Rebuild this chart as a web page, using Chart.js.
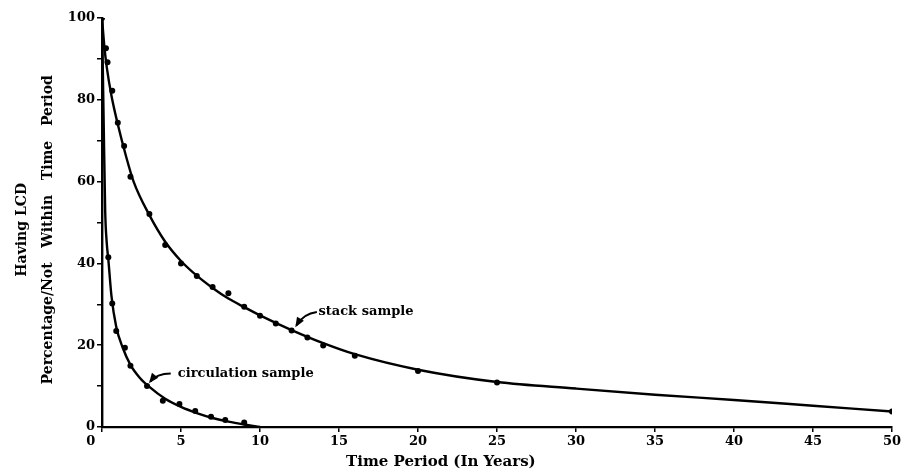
<!DOCTYPE html>
<html>
<head>
<meta charset="utf-8">
<script src="https://cdn.jsdelivr.net/npm/chart.js@4/dist/chart.umd.min.js"></script>
<style>
html,body{margin:0;padding:0;background:#fff;}
#wrap{width:908px;height:472px;}
</style>
</head>
<body>
<div id="wrap"><canvas id="c" width="908" height="472"></canvas></div>
<script>
// Observed points: stack sample
const stackX = [0, 0.25, 0.35, 0.65, 1.0, 1.4, 1.8, 3, 4, 5, 6, 7, 8, 9, 10, 11, 12, 13, 14, 16, 20, 25, 50];
const stackY = [100, 92.6, 89.2, 82.2, 74.4, 68.7, 61.2, 52.1, 44.5, 40, 36.9, 34.2, 32.7, 29.4, 27.2, 25.3, 23.6, 21.9, 19.9, 17.4, 13.7, 10.9, 3.8];
// Observed points: circulation sample
const circX = [0.4, 0.65, 0.9, 1.45, 1.8, 2.85, 3.85, 4.9, 5.9, 6.9, 7.8, 9.0];
const circY = [41.5, 30.2, 23.5, 19.4, 15.0, 10.0, 6.4, 5.6, 3.9, 2.5, 1.7, 1.1];
// Fitted curves
const stackCurveX = [0, 0.15, 0.3, 0.6, 1, 1.5, 2, 3, 4, 5, 6, 7, 8, 9, 10, 12, 14, 16, 20, 25, 30, 35, 40, 45, 50];
const stackCurveY = [100, 93, 88, 81, 74, 66.5, 60, 51.8, 45.3, 40.6, 37, 34, 31.4, 29.3, 27.3, 23.7, 20.5, 17.8, 14, 11, 9.4, 7.9, 6.6, 5.2, 3.8];
const circCurveX = [0, 0.1, 0.2, 0.3, 0.4, 0.6, 0.9, 1.3, 1.8, 2.4, 3, 4, 5, 6, 7, 8, 9, 10];
const circCurveY = [100, 76, 53, 45, 41, 32, 24.5, 19.5, 15.2, 12, 9.8, 6.9, 4.9, 3.4, 2.2, 1.3, 0.6, 0];
// Tick labels
const xTicks = [0, 5, 10, 15, 20, 25, 30, 35, 40, 45, 50];
const yTickLabels = [0, 20, 40, 60, 80, 100];
// Annotations
const labels = ['stack sample', 'circulation sample'];
const labelAt = [[13.7, 28.3], [4.8, 13.1]];
const arrowPath = [[[13.6, 28.1], [12.75, 27.7], [12.3, 24.8]], [[4.35, 13.1], [3.45, 13.1], [3.05, 11.1]]];
const xTitle = 'Time Period (In Years)';
const xTitleAt = 21.45;
const yTitle = ['Having LCD   ', 'Percentage/Not   Within   Time   Period   '];

const toPts = (xs, ys) => xs.map((x, i) => ({x, y: ys[i]}));
const FONT = "'DejaVu Serif', serif";

const annot = {
  id: 'annot',
  afterDatasetsDraw(chart) {
    const {ctx, scales: {x, y}, chartArea} = chart;
    ctx.save();
    ctx.fillStyle = '#000';
    ctx.strokeStyle = '#000';
    ctx.font = "bold 13px " + FONT;
    ctx.textAlign = 'left';
    ctx.textBaseline = 'middle';
    labels.forEach((t, i) => {
      ctx.fillText(t, x.getPixelForValue(labelAt[i][0]), y.getPixelForValue(labelAt[i][1]));
      const p = arrowPath[i].map(q => [x.getPixelForValue(q[0]), y.getPixelForValue(q[1])]);
      ctx.lineWidth = 2;
      ctx.beginPath();
      ctx.moveTo(p[0][0], p[0][1]);
      ctx.quadraticCurveTo(p[1][0], p[1][1], p[2][0], p[2][1]);
      ctx.stroke();
      const ang = Math.atan2(p[2][1] - p[1][1], p[2][0] - p[1][0]);
      const L = 8, W = 4;
      ctx.beginPath();
      ctx.moveTo(p[2][0] + Math.cos(ang) * 2, p[2][1] + Math.sin(ang) * 2);
      ctx.lineTo(p[2][0] - Math.cos(ang) * L - Math.sin(ang) * W, p[2][1] - Math.sin(ang) * L + Math.cos(ang) * W);
      ctx.lineTo(p[2][0] - Math.cos(ang) * L + Math.sin(ang) * W, p[2][1] - Math.sin(ang) * L - Math.cos(ang) * W);
      ctx.closePath();
      ctx.fill();
    });
    ctx.font = "bold 15px " + FONT;
    ctx.textAlign = 'center';
    ctx.fillText(xTitle, x.getPixelForValue(xTitleAt), chartArea.bottom + 35);
    ctx.restore();
  }
};

const lineDs = (data) => ({
  data, showLine: true, pointRadius: 0, borderColor: '#000', borderWidth: 2.4,
  cubicInterpolationMode: 'monotone', fill: false
});
const dotDs = (data) => ({
  data, showLine: false, pointRadius: 3, pointBackgroundColor: '#000', pointBorderColor: '#000', pointBorderWidth: 0
});

new Chart(document.getElementById('c'), {
  type: 'scatter',
  data: {
    datasets: [
      lineDs(toPts(stackCurveX, stackCurveY)),
      lineDs(toPts(circCurveX, circCurveY)),
      dotDs(toPts(stackX, stackY)),
      dotDs(toPts(circX, circY))
    ]
  },
  options: {
    responsive: false,
    animation: false,
    events: [],
    layout: {padding: {left: 0, right: 16, top: 18, bottom: 0}},
    plugins: {legend: {display: false}, tooltip: {enabled: false}},
    scales: {
      x: {
        type: 'linear', min: 0, max: 50,
        afterBuildTicks: (s) => { s.ticks = xTicks.map(v => ({value: v})); },
        ticks: {color: '#000', font: {family: FONT, size: 13, weight: 'bold'}, padding: 2, maxRotation: 0,
          callback: (v) => v === 0 ? '0     ' : String(v)},
        grid: {drawOnChartArea: false, drawTicks: true, tickLength: 5, color: '#000', lineWidth: 1.5},
        border: {display: true, color: '#000', width: 2.2},
        afterFit: (s) => { s.height = 45; }
      },
      y: {
        type: 'linear', min: 0, max: 100,
        ticks: {stepSize: 10, color: '#000', font: {family: FONT, size: 13, weight: 'bold'}, padding: 2,
          callback: (v) => yTickLabels.includes(v) ? String(v) : ''},
        grid: {drawOnChartArea: false, drawTicks: true, tickLength: 5, color: '#000', lineWidth: 1.5},
        border: {display: true, color: '#000', width: 2.4},
        title: {display: true, text: yTitle, color: '#000', padding: {top: 9, bottom: 0},
          font: {family: FONT, size: 14, weight: 'bold', lineHeight: '26px'}},
        afterFit: (s) => { s.width = 102; }
      }
    }
  },
  plugins: [annot]
});
</script>
</body>
</html>
